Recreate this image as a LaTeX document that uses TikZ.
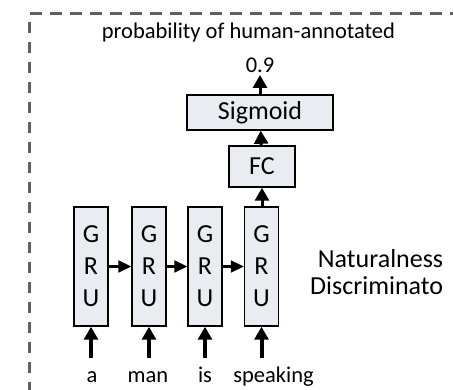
\documentclass[tikz,border=0pt]{standalone}
\usepackage{fontspec}
\setmainfont{Carlito}
\usepackage{tikz}
\usetikzlibrary{shapes,arrows.meta}
\definecolor{cellfill}{RGB}{233,237,241}
\definecolor{framegray}{RGB}{96,96,96}
\tikzset{
  cellbox/.style={rectangle, draw, line width=1.5pt, fill=cellfill, inner sep=0pt},
  feedarrow/.style={line width=3pt, -{Triangle[length=13pt,width=14pt]}},
  inputarrow/.style={line width=4pt, -{Triangle[length=13pt,width=14pt]}},
  recurarrow/.style={line width=2.2pt, -{Triangle[length=13pt,width=12pt]}},
  wordlabel/.style={font=\fontsize{22.5}{27}\selectfont, anchor=base},
}
\newcommand{\grucell}[2] {\node at (#1) (#2) [cellbox, minimum width=34pt, minimum height=119pt, align=center, font=\fontsize{26}{32}\selectfont] {G\\R\\U};}
\newcommand{\nnlayer}[5] {\node at (#1) (#2) [cellbox, minimum width=#3, minimum height=#4, font=\fontsize{26}{32}\selectfont] {#5};}
\newcommand{\recur}[2] {\draw [recurarrow] (#1) -- (#2);}
\newcommand{\wordin}[3] {\coordinate (#2) at (#1); \draw [inputarrow] (#2) -- (#3.south);}

\begin{document}
\begin{tikzpicture}[x=1pt, y=-1pt]
\useasboundingbox (0,0) rectangle (453,390);

% dashed frame of the discriminator
\draw [framegray, line width=3pt, dash pattern=on 12pt off 8pt] (30,14) -- (453,14);
\draw [framegray, line width=3pt, dash pattern=on 11pt off 9pt] (29,22) -- (29,390);

\node [wordlabel] (caption) at (248.5,38.5) {probability of human-annotated};
\node [wordlabel] (score) at (260,73) {0.9};

\nnlayer {260,112.5}{sigmoid}{146pt}{35pt}{Sigmoid}
\nnlayer {262,166.5}{fc}{66pt}{41pt}{FC}

\grucell {91,266.5}{gru1}
\grucell {149,266.5}{gru2}
\grucell {205,266.5}{gru3}
\grucell {261.5,266.5}{gru4}

\recur {gru1}{gru2}
\recur {gru2}{gru3}
\recur {gru3}{gru4}
\draw [feedarrow] (gru4.north -| fc) -- (fc.south);
\draw [feedarrow] (fc) -- (sigmoid);
\draw [feedarrow] (sigmoid.north -| score) -- (score.north |- 0,75);

% input words
\wordin {91,358}{in1}{gru1}
\wordin {149,358}{in2}{gru2}
\wordin {205,358}{in3}{gru3}
\wordin {261.5,358}{in4}{gru4}

\node [wordlabel] (w1) at (92,382) {a};
\node [wordlabel] (w2) at (148,382) {man};
\node [wordlabel] (w3) at (205,382) {is};
\node [wordlabel] (w4) at (273.5,382) {speaking};

\node [anchor=base, font=\fontsize{26}{32}\selectfont] (name1) at (380.5,268) {Naturalness};
\node [anchor=base west, inner xsep=0pt, font=\fontsize{26}{32}\selectfont] (name2) at (310,295) {Discriminato};

\end{tikzpicture}
\end{document}
